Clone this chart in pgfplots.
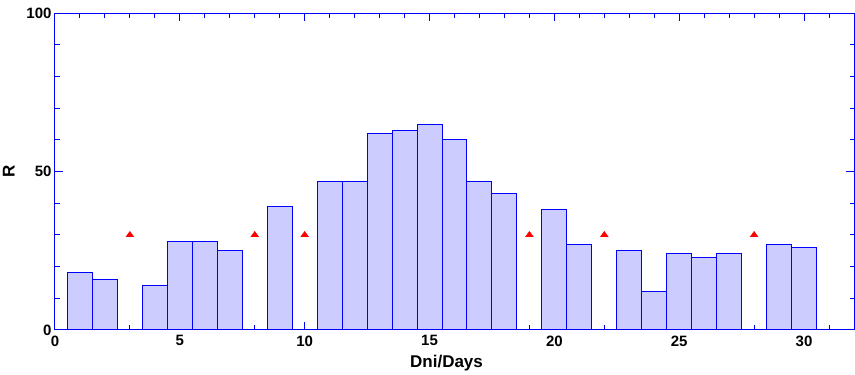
\documentclass[border=0pt]{standalone}
\usepackage{fontspec}
\setmainfont{Liberation Sans}
\usepackage{pgfplots}
\pgfplotsset{compat=1.18}
\definecolor{barfill}{RGB}{204,204,255}
\begin{document}
\begin{tikzpicture}
\useasboundingbox (-55pt,-45pt) rectangle (800pt,330pt);
\begin{axis}[
 at={(0pt,0pt)}, anchor=south west,
 scale only axis, width=799pt, height=316.7pt,
 xmin=0, xmax=32, ymin=0, ymax=100,
 xtick={0,5,...,30}, minor xtick={1,...,31},
 ytick={0,50,100}, minor ytick={10,20,...,90},
 tick align=inside, major tick length=8pt, minor tick length=4.5pt,
 axis line style={blue, line width=1pt},
 every tick/.style={blue, line width=1pt},
 ticklabel style={font=\fontsize{15}{17}\selectfont\bfseries},
 xticklabel style={yshift=-2pt},
 /pgf/number format/assume math mode=true,
 xlabel={Dni/Days}, ylabel={R},
 label style={font=\fontsize{17}{19}\selectfont\bfseries},
 xlabel style={at={(axis description cs:0.49,-0.104)}, anchor=center},
 ylabel style={at={(axis description cs:-0.058,0.5)}, anchor=center},
 clip=false,
]
\addplot[ybar, bar width=1, fill=barfill, draw=blue, line width=1pt] coordinates {
(1,18) (2,16) (4,14) (5,28) (6,28) (7,25) (9,39)
(11,47) (12,47) (13,62) (14,63) (15,65) (16,60) (17,47) (18,43)
(20,38) (21,27) (23,25) (24,12) (25,24) (26,23) (27,24) (29,27) (30,26)
};
\addplot[only marks, mark=triangle*, mark size=4.5pt, red, mark options={yscale=0.8}] coordinates {
(3,30) (8,30) (10,30) (19,30) (22,30) (28,30)
};
\end{axis}
\end{tikzpicture}
\end{document}
